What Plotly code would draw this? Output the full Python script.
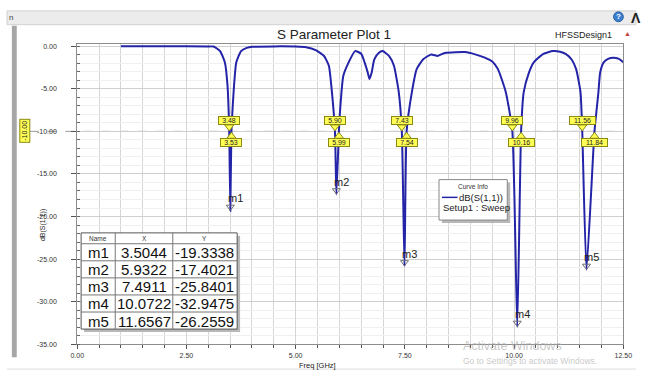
import plotly.graph_objects as go

# ---------------- data ----------------
freq_ghz = [1.00, 2.00, 3.00, 3.12, 3.27, 3.38, 3.44, 3.47, 3.48, 3.5044, 3.53, 3.56, 3.59, 3.64,
            3.75, 3.88, 4.01, 4.50, 5.00, 5.24, 5.46, 5.65, 5.76, 5.83, 5.90, 5.9322, 5.99, 6.02,
            6.09, 6.21, 6.36, 6.50, 6.58, 6.65, 6.69, 6.74, 6.80, 6.90, 6.99, 7.14, 7.25, 7.36,
            7.43, 7.4911, 7.54, 7.66, 7.77, 7.92, 8.10, 8.25, 8.33, 8.44, 8.88, 9.11, 9.33, 9.50,
            9.63, 9.81, 9.96, 10.0722, 10.16, 10.22, 10.34, 10.45, 10.67, 10.89, 11.05, 11.18,
            11.32, 11.42, 11.52, 11.56, 11.6567, 11.84, 11.93, 11.97, 12.05, 12.15, 12.27, 12.40,
            12.50]
s11_db = [-0.02, -0.02, -0.03, -0.05, -0.58, -1.93, -4.6, -8.1, -10.0, -19.3338, -10.0, -7.0, -4.6,
          -1.93, -0.58, -0.2, -0.08, -0.03, -0.05, -0.12, -0.46, -1.16, -2.3, -5.4, -10.0, -17.4021,
          -10.0, -7.3, -3.5, -1.93, -0.58, -0.9, -1.93, -3.1, -3.86, -3.1, -1.55, -0.8, -0.58, -1.16,
          -2.3, -5.4, -10.0, -25.8401, -10.0, -5.4, -2.7, -1.55, -0.97, -1.16, -0.97, -0.78, -0.7,
          -0.97, -1.35, -1.8, -2.7, -5.4, -10.0, -32.9475, -10.0, -5.4, -3.1, -1.9, -0.9, -0.58,
          -0.65, -0.9, -1.6, -2.7, -5.4, -10.0, -26.2559, -10.0, -5.4, -3.1, -1.9, -1.5, -1.35,
          -1.5, -1.9]

marker_names = ["m1", "m2", "m3", "m4", "m5"]
marker_freq = [3.5044, 5.9322, 7.4911, 10.0722, 11.6567]
marker_db = [-19.3338, -17.4021, -25.8401, -32.9475, -26.2559]

ref_level = -10.0
cross_low = [3.48, 5.90, 7.43, 9.96, 11.56]
cross_high = [3.53, 5.99, 7.54, 10.16, 11.84]

x_tick_vals = [0, 2.5, 5, 7.5, 10, 12.5]
x_tick_text = ["0.00", "2.50", "5.00", "7.50", "10.00", "12.50"]
y_tick_vals = [0, -5, -10, -15, -20, -25, -30, -35]
y_tick_text = ["0.00", "-5.00", "-10.00", "-15.00", "-20.00", "-25.00", "-30.00", "-35.00"]

table_header = ["Name", "X", "Y"]

# ---------------- layout geometry ----------------
W, H = 645, 376
PL, PR, PT, PB = 72, 632, 43, 347
Y_MIN, Y_MAX = -35.0, 0.2
PPD = (PB - PT) / (Y_MAX - Y_MIN)   # pixels per dB
FONT = "Liberation Sans"
CURVE = "#2424a8"
YEL = "#ffff55"
YEL_LINE = "#8a8a10"


def fx(px):
    return px / W


def fy(py):
    return 1 - py / H


ann = []
shapes = []


def ptext(px, py, text, size, color="#222", xanchor="center", yanchor="middle", **kw):
    d = dict(x=fx(px), y=fy(py), xref="paper", yref="paper", text=text, showarrow=False,
             xanchor=xanchor, yanchor=yanchor, font=dict(family=FONT, size=size, color=color))
    d.update(kw)
    ann.append(d)


def prect(x0, y0, x1, y1, fill, line_color=None, lw=1, layer="above"):
    shapes.append(dict(type="rect", xref="paper", yref="paper", x0=fx(x0), x1=fx(x1),
                       y0=fy(y1), y1=fy(y0), fillcolor=fill, layer=layer,
                       line=dict(color=line_color or fill, width=lw if line_color else 0)))


def pline(x0, y0, x1, y1, color, lw=1, dash=None, layer="above"):
    shapes.append(dict(type="line", xref="paper", yref="paper", x0=fx(x0), x1=fx(x1),
                       y0=fy(y0), y1=fy(y1), layer=layer,
                       line=dict(color=color, width=lw, dash=dash)))


fig = go.Figure()

fig.add_trace(go.Scatter(x=freq_ghz, y=s11_db, mode="lines",
                         line=dict(color=CURVE, width=2, shape="spline", smoothing=0.5),
                         hoverinfo="skip", showlegend=False))

# marker triangles m1..m5
fig.add_trace(go.Scatter(x=marker_freq, y=[v + 4 / PPD for v in marker_db], mode="markers",
                         marker=dict(symbol="triangle-down-open", size=7, color="#707070",
                                     line=dict(width=1)),
                         hoverinfo="skip", showlegend=False))

# -10 dB crossing triangles
fig.add_trace(go.Scatter(x=cross_low, y=[ref_level + 4.5 / PPD] * len(cross_low), mode="markers",
                         marker=dict(symbol="triangle-down", size=8, color=YEL,
                                     line=dict(width=1, color=YEL_LINE)),
                         hoverinfo="skip", showlegend=False))
fig.add_trace(go.Scatter(x=cross_high, y=[ref_level - 5 / PPD] * len(cross_high), mode="markers",
                         marker=dict(symbol="triangle-up", size=8, color=YEL,
                                     line=dict(width=1, color=YEL_LINE)),
                         hoverinfo="skip", showlegend=False))

# crossing labels
for xs, ysh in ((cross_low, 11), (cross_high, -11.5)):
    for xv in xs:
        t = f"{xv:.2f}"
        ann.append(dict(x=xv, y=ref_level, xref="x", yref="y", text=t, showarrow=False,
                        xanchor="center", yanchor="middle", yshift=ysh,
                        font=dict(family=FONT, size=7, color="#222"), bgcolor=YEL,
                        bordercolor=YEL_LINE, borderwidth=1, borderpad=0,
                        width=5 * len(t), height=7))

# marker names
for n, xv, yv in zip(marker_names, marker_freq, marker_db):
    ann.append(dict(x=xv, y=yv, xref="x", yref="y", text=n, showarrow=False, xanchor="center",
                    yanchor="middle", xshift=5, yshift=12.5,
                    font=dict(family=FONT, size=11, color="#222")))

# -10 reference line (extends left to the yellow tag)
shapes.append(dict(type="line", xref="paper", yref="y", x0=fx(23), x1=fx(PR), y0=ref_level,
                   y1=ref_level, line=dict(color="#9a9a9a", width=1, dash="dash"), layer="below"))
ptext(18, 131, "-10.00", 7, textangle=-90, bgcolor=YEL, bordercolor=YEL_LINE, borderwidth=1,
      borderpad=1)

# window chrome
prect(0, 9, W, 23, "#ececec", "#d0d0d0", layer="below")
prect(5, 24, 10, 360, "#a6a6a6", layer="below")
pline(0, 372, W, 372, "#dddddd", layer="below")
shapes.append(dict(type="circle", xref="paper", yref="paper", x0=fx(622), x1=fx(632),
                   y0=fy(20), y1=fy(10), fillcolor="#3a7fd0", line=dict(color="#2a5fa0", width=1)))
ptext(627, 15, "<b>?</b>", 8, color="white")
ptext(638, 16, "<b>Λ</b>", 14, xanchor="left")
ptext(0, 16, "n", 8, color="#444", xanchor="left")

# titles
ptext(335, 33, "S Parameter Plot 1", 13.5)
ptext(622, 33, "HFSSDesign1", 9, xanchor="right")
ptext(636, 32, "▲", 7, color="#c04040")
ptext(318, 368, "Freq [GHz]", 7.5)
ptext(37, 226, "dB(S(1,1))", 7, textangle=-90)

# marker table
TL, TR, TT = 76, 236, 234
col_x = [TL, 111, 170, TR]
row_y = [TT, 245, 262.3, 279.6, 296.9, 314.2, 331.5]
prect(TL + 3, TT + 3, TR + 3, row_y[-1] + 3, "#b8b8b8")
prect(TL, TT, TR, row_y[-1], "white", "#555")
for cx in col_x[1:-1]:
    pline(cx, TT, cx, row_y[-1], "#777")
for ry in row_y[1:-1]:
    pline(TL, ry, TR, ry, "#777")
for i, h in enumerate(table_header):
    ptext((col_x[i] + col_x[i + 1]) / 2, (row_y[0] + row_y[1]) / 2, h, 6.5, color="#333")
for r, (n, xv, yv) in enumerate(zip(marker_names, marker_freq, marker_db)):
    cy = (row_y[r + 1] + row_y[r + 2]) / 2 + 0.5
    ptext(col_x[0] + 5, cy, n, 15, color="#111", xanchor="left")
    ptext((col_x[1] + col_x[2]) / 2, cy, f"{xv:.4f}", 15, color="#111")
    ptext((col_x[2] + col_x[3]) / 2, cy, f"{yv:.4f}", 15, color="#111")

# curve info box
LX0, LX1, LY0, LY1 = 443, 513, 180, 221
prect(LX0 + 3, LY0 + 3, LX1 + 3, LY1 + 3, "#b8b8b8")
prect(LX0, LY0, LX1, LY1, "white", "#888")
pline(446, 198, 462, 198, CURVE, lw=1.5)
ptext(478, 187, "Curve Info", 6.5, color="#333")
ptext(511, 198, "dB(S(1,1))", 9.5, xanchor="right")
ptext(445, 208, "Setup1 : Sweep", 9.5, xanchor="left")

# watermark
ptext(466, 349, "Activate Windows", 12.5, color="rgba(175,175,175,0.7)", xanchor="left")
ptext(466, 364, "Go to Settings to activate Windows.", 8.5, color="rgba(175,175,175,0.7)",
      xanchor="left")

fig.update_layout(
    width=W, height=H, margin=dict(l=0, r=0, t=0, b=0, pad=0),
    paper_bgcolor="white", plot_bgcolor="white", showlegend=False,
    font=dict(family=FONT, size=7, color="#333"),
    xaxis=dict(domain=[fx(PL), fx(PR)], range=[0, 12.5], tickmode="array",
               tickvals=x_tick_vals, ticktext=x_tick_text, ticks="outside", ticklen=4,
               tickcolor="#555", showline=True, linecolor="#8c8c8c", mirror=True,
               showgrid=True, gridcolor="#d6d6d6", zeroline=False,
               tickfont=dict(family=FONT, size=7, color="#333"),
               minor=dict(dtick=0.5, tick0=0, ticks="outside", ticklen=3, tickcolor="#555",
                          showgrid=True, gridcolor="#d6d6d6")),
    yaxis=dict(domain=[fy(PB), fy(PT)], range=[Y_MIN, Y_MAX], tickmode="array",
               tickvals=y_tick_vals, ticktext=y_tick_text, ticks="outside", ticklen=5,
               tickcolor="#555", showline=True, linecolor="#8c8c8c", mirror=True,
               showgrid=True, gridcolor="#cfcfcf", zeroline=False, ticklabelstandoff=13,
               tickfont=dict(family=FONT, size=7, color="#333"),
               minor=dict(dtick=1, tick0=0, ticks="inside", ticklen=3, tickcolor="#666",
                          showgrid=True, gridcolor="#efefef")),
    annotations=ann, shapes=shapes,
)

fig.write_html("out.html")
